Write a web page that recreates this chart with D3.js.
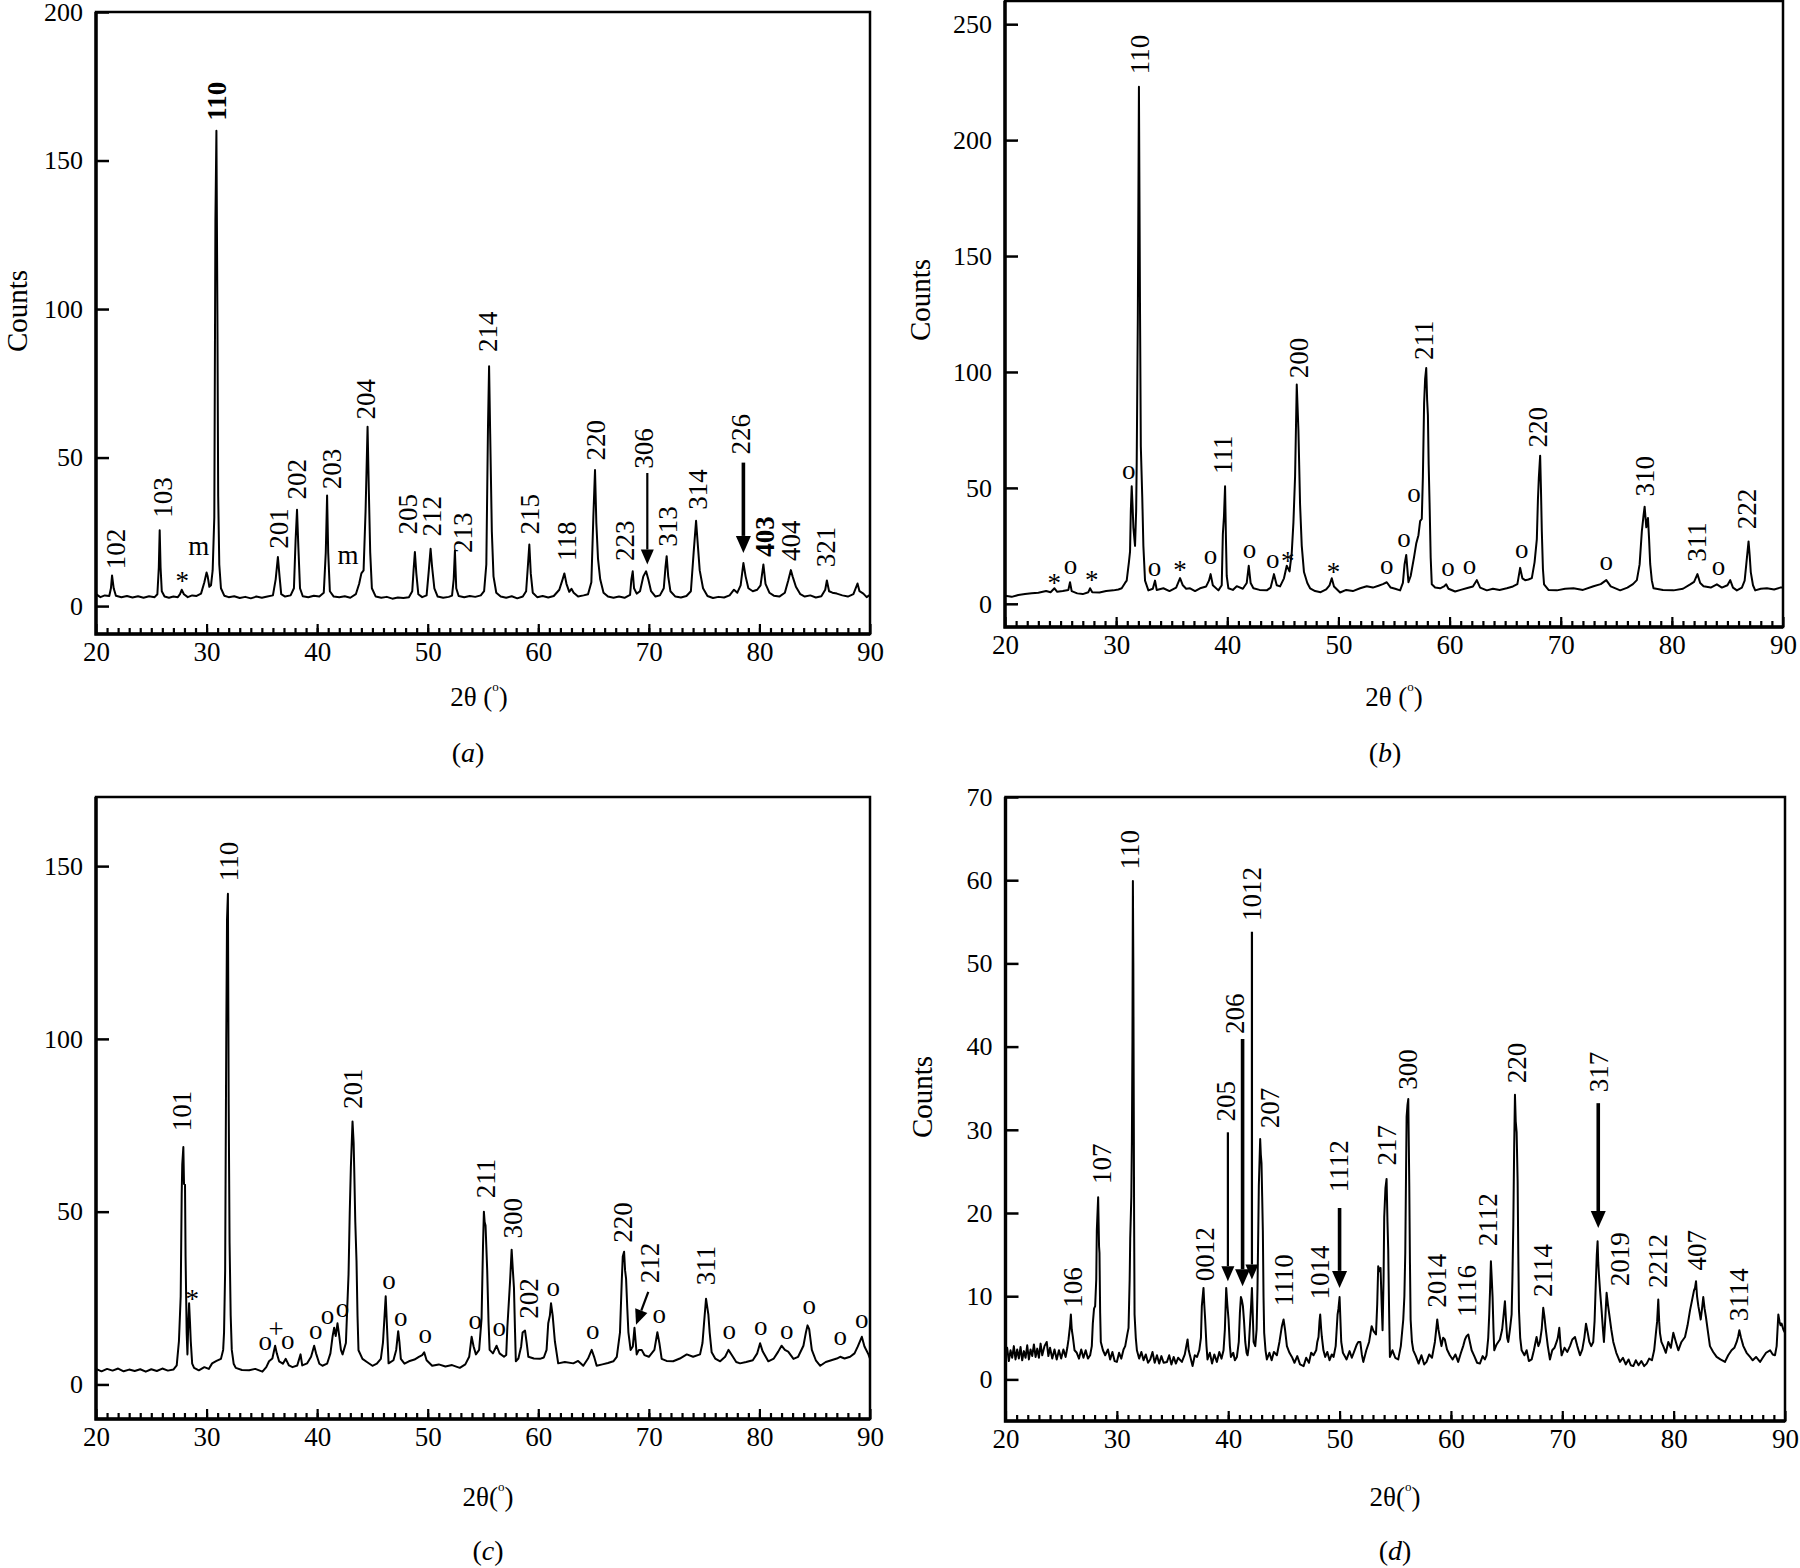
<!DOCTYPE html>
<html lang="en">
<head>
<meta charset="utf-8">
<title>XRD patterns (a)-(d)</title>
<script src="https://d3js.org/d3.v7.min.js"></script>
<style>
  body { margin: 0; background: #fff; }
  svg { display: block; }
</style>
</head>
<body>
<script>
// ---- data (2theta in degrees, counts) ----
var xTicks = [20, 30, 40, 50, 60, 70, 80, 90];

var traceA = [[20.0,4.0],[20.4,3.0],[20.8,3.6],[21.2,3.4],[21.35,6],[21.45,10.3],[21.6,6],[21.8,3.5],[22.3,3.0],[22.8,3.4],[23.3,2.9],[23.8,3.3],[24.3,2.8],[24.8,3.3],[25.3,3.0],[25.55,4],[25.68,13],[25.76,25.5],[25.84,13],[25.95,5],[26.2,3.2],[26.6,2.8],[27.0,3.2],[27.4,3.0],[27.6,4.0],[27.75,5.5],[27.95,4],[28.3,3.0],[28.7,3.6],[29.1,3.4],[29.5,4.2],[29.8,8],[30.0,11.3],[30.1,10],[30.25,6.5],[30.4,7],[30.55,12],[30.7,30],[30.8,130],[30.89,160],[30.98,98],[31.05,37],[31.15,14],[31.3,6],[31.6,3.5],[32.0,3.0],[32.5,3.3],[33.0,2.7],[33.5,3.1],[34.0,2.6],[34.5,3.2],[35.0,2.8],[35.5,3.2],[36.0,3.6],[36.25,9],[36.45,16.5],[36.6,10],[36.75,4],[37.1,3.2],[37.6,3.6],[37.9,6],[38.05,22],[38.18,32.4],[38.3,20],[38.45,6],[38.7,3.3],[39.2,3.0],[39.7,3.5],[40.2,3.2],[40.6,4.5],[40.78,18],[40.9,37.2],[41.0,18],[41.15,5],[41.5,3.2],[42.0,3.0],[42.5,3.3],[43.0,2.8],[43.5,4],[43.8,7.5],[44.0,11],[44.2,12],[44.38,32],[44.56,60.4],[44.68,38],[44.8,18],[44.95,6],[45.3,3.2],[45.8,2.8],[46.3,3.1],[46.8,2.5],[47.3,2.9],[47.8,2.7],[48.3,3.0],[48.6,5],[48.72,12],[48.84,18.2],[48.97,11],[49.15,4],[49.5,3.0],[49.9,3.6],[50.1,12],[50.26,19.3],[50.4,13],[50.6,6],[50.9,3.2],[51.4,2.8],[51.9,3.1],[52.2,3.5],[52.35,9],[52.46,18.6],[52.58,6],[52.8,3.4],[53.3,3.0],[53.8,3.4],[54.3,3.1],[54.8,3.6],[55.1,5],[55.3,14],[55.45,60],[55.55,80.7],[55.65,58],[55.8,25],[55.95,10],[56.2,4.5],[56.6,3.2],[57.1,2.8],[57.6,3.3],[58.1,2.6],[58.6,3.2],[58.9,5],[59.05,13],[59.19,20.7],[59.32,11],[59.5,4.5],[59.9,3.0],[60.4,3.4],[60.9,2.9],[61.4,3.4],[61.9,5.5],[62.2,9],[62.36,11],[62.55,7.5],[62.8,4.8],[63.0,5.8],[63.2,4.5],[63.6,3.2],[64.1,3.6],[64.5,4],[64.8,8],[64.98,30],[65.13,45.8],[65.25,28],[65.4,16],[65.6,9],[65.9,4.5],[66.3,3.2],[66.8,2.8],[67.3,3.2],[67.8,2.8],[68.3,3.8],[68.42,9],[68.54,11.7],[68.66,6],[68.9,4.2],[69.2,5],[69.5,10],[69.75,11.7],[69.95,9],[70.2,5],[70.6,3.2],[71.0,3.6],[71.35,6],[71.5,13],[71.61,16.8],[71.75,10],[71.95,5],[72.4,3.2],[72.9,2.9],[73.4,3.4],[73.8,5],[74.05,18],[74.27,28.7],[74.4,22],[74.6,12],[74.9,6],[75.3,3.4],[75.8,2.7],[76.3,3.1],[76.8,2.9],[77.3,3.6],[77.7,5.5],[78.0,4.5],[78.3,7],[78.55,14.5],[78.75,10],[79.0,6],[79.4,5],[79.8,5.5],[80.1,7],[80.36,14],[80.55,7.5],[80.9,4.5],[81.3,3.5],[81.8,3.2],[82.3,4.5],[82.6,8.5],[82.84,12.1],[83.0,10],[83.3,6.5],[83.7,4],[84.1,3.2],[84.6,3.6],[85.1,2.9],[85.6,3.3],[85.95,5.5],[86.1,8.6],[86.3,5],[86.6,4.5],[87.0,4.2],[87.5,3.6],[88.0,3.2],[88.5,4],[88.87,7.6],[89.05,5],[89.4,4.2],[89.7,3],[90.0,3.8]];

var peaksA = [["102",21.84,12.4],["103",26.06,29.7],["110",30.9,163.4],["201",36.56,19.3],["202",38.2,35.9],["203",41.3,39.3],["204",44.46,62.8],["205",48.2,24.1],["212",50.4,23.4],["213",53.2,17.9],["214",55.48,85.5],["215",59.25,24.1],["118",62.6,15.2],["220",65.2,49],["223",67.85,15.2],["306",69.57,46.2],["313",71.77,20],["314",74.4,32.4],["226",78.34,51],["403",80.5,16.6],["404",82.9,15.2],["321",86.04,13.1]];
var heavyA = ["110", "403"];
var marksA = [["*",27.8,9.9],["m",29.3,19.3],["m",42.8,16.5]];
var arrowsA = [[69.86,44.8,69.86,14,false],[78.55,48.3,78.55,17.9,true]];

var traceB = [[20.0,3.5],[20.6,3.0],[21.2,3.8],[21.8,4.2],[22.4,4.6],[23.0,4.8],[23.7,5.5],[24.1,5.0],[24.45,6.7],[24.7,5.2],[25.2,5.5],[25.7,6],[25.85,9.3],[26.0,5.5],[26.5,4.5],[27.0,4.2],[27.5,5.0],[27.65,6.7],[27.85,5],[28.5,4.9],[29.1,5.5],[29.75,5.8],[30.2,6.2],[30.5,6.7],[30.8,9],[30.95,10],[31.15,18],[31.25,22.5],[31.32,40],[31.4,50.7],[31.48,42],[31.55,33],[31.7,25],[31.8,40],[31.85,61],[31.95,123],[32.05,223],[32.15,125],[32.22,68],[32.35,46],[32.45,25],[32.6,10],[32.9,5.8],[33.3,6.5],[33.5,10],[33.65,6],[34.25,6.7],[34.8,5.5],[35.4,7],[35.75,11.1],[36.0,8],[36.3,6.5],[36.65,6.7],[37.1,5.5],[37.55,6.7],[38.1,7.5],[38.35,10],[38.5,12.8],[38.7,8],[39.2,5.8],[39.5,8],[39.6,30],[39.7,37.5],[39.8,50.7],[39.88,28],[39.95,12],[40.1,6.7],[40.5,6],[40.85,7.6],[41.4,6.5],[41.75,9],[41.93,16.4],[42.1,9],[42.35,6.7],[42.9,6],[43.55,5.8],[43.9,7],[44.2,12.8],[44.45,8],[44.75,7.5],[45.1,11],[45.35,16.4],[45.6,14],[45.8,22],[45.95,35],[46.1,55],[46.25,94.6],[46.4,75],[46.55,42.7],[46.7,25],[46.9,13.7],[47.2,9],[47.45,6.7],[47.9,5.5],[48.4,5],[48.9,6.2],[49.2,8],[49.4,11],[49.6,7.5],[50.15,4.9],[50.7,6],[51.3,5.5],[51.95,6.7],[52.55,7.6],[53.1,7],[53.6,7.8],[54.0,8.5],[54.35,9.3],[54.7,7],[55.1,6.5],[55.55,5.8],[55.8,9],[55.95,17],[56.1,21.1],[56.22,14],[56.3,9.3],[56.5,12],[56.8,20],[57.0,26],[57.2,29.6],[57.35,35.7],[57.5,36.6],[57.6,55],[57.71,86.7],[57.8,97],[57.9,101.7],[57.98,88],[58.05,81.5],[58.12,60],[58.2,43.6],[58.3,20],[58.4,8.4],[58.7,7],[59.15,6.7],[59.5,7.5],[59.7,8.4],[59.9,6.5],[60.5,5.3],[61.0,6],[61.6,6.8],[62.1,7.5],[62.45,10.2],[62.75,7],[63.35,5.8],[63.9,6.5],[64.5,6],[65.15,6.7],[65.7,7.5],[66.1,8.5],[66.35,15.5],[66.55,11],[66.8,10.2],[67.1,10.5],[67.4,11.1],[67.65,18],[67.85,27.8],[67.95,45],[68.03,54.2],[68.15,63.9],[68.22,50],[68.3,31.3],[68.4,15],[68.5,8.4],[68.9,6],[69.65,5.8],[70.4,6.5],[71.15,6.7],[72.0,6],[72.95,7.6],[73.6,8.5],[74.1,10.2],[74.5,7.5],[75.35,5.8],[76.0,7],[76.5,8.5],[76.85,10.2],[77.1,17],[77.3,31.3],[77.45,38],[77.55,41.9],[77.65,36],[77.7,33],[77.85,37],[77.95,28],[78.05,17.2],[78.2,10],[78.35,6.7],[79.2,6],[80.15,5.8],[81.0,6.5],[81.65,8.4],[82.0,9.5],[82.3,12.8],[82.55,9],[82.85,7.6],[83.5,7],[84.05,8.4],[84.5,7],[85.0,8],[85.25,10.2],[85.5,7],[85.85,5.8],[86.3,7],[86.55,10],[86.7,17.2],[86.9,26.9],[87.0,21],[87.1,13.7],[87.3,8],[87.5,5.8],[88.0,6.5],[88.55,6.7],[89.2,6.2],[89.75,7],[90.0,7]];

var peaksB = [["110",32.15,228.4],["111",39.65,56],["200",46.46,97.3],["211",57.71,105.2],["220",68.0,67.4],["310",77.6,46.3],["311",82.25,18.1],["222",86.8,32.2]];
var marksB = [["*",24.44,11.1],["o",25.9,15.8],["*",27.8,12.3],["o",31.13,56.8],["o",33.44,15],["*",35.75,16.4],["o",38.5,20],["o",41.99,22.5],["o",44.1,18.1],["*",45.44,20.4],["*",49.55,15.8],["o",54.35,15.8],["o",55.9,27.4],["o",56.8,46.8],["o",59.85,14.6],["o",61.8,15.5],["o",66.5,22.5],["o",74.09,17.2],["o",84.2,15.1]];

var traceC = [[20.0,4.5],[20.5,3.8],[21.0,4.5],[21.5,4.0],[22.0,4.6],[22.5,3.8],[23.0,4.3],[23.5,3.9],[24.0,4.4],[24.5,3.7],[25.0,4.4],[25.5,3.9],[26.0,4.6],[26.5,4.0],[27.0,4.3],[27.3,5.5],[27.5,12.5],[27.66,25.5],[27.75,55],[27.8,63.6],[27.9,68.7],[27.96,58],[28.05,57.8],[28.1,37],[28.2,15],[28.27,8.7],[28.35,18],[28.42,23.5],[28.5,18],[28.57,12.5],[28.7,6],[28.87,4.8],[29.3,4.1],[29.8,5],[30.2,4.5],[30.5,6.1],[30.9,6.8],[31.3,7.4],[31.5,10],[31.58,15],[31.68,33],[31.78,100],[31.85,134.6],[31.93,142],[32.0,81],[32.08,41],[32.18,20],[32.28,10],[32.45,6],[32.64,4.8],[33.2,4.2],[33.85,4.1],[34.4,4.5],[35.05,3.7],[35.4,5],[35.65,6.7],[35.95,7.5],[36.2,11.2],[36.35,9],[36.56,6.7],[36.9,6],[37.16,7.4],[37.45,5.5],[37.77,5],[38.2,5.5],[38.5,8.7],[38.65,5.5],[39.1,6.1],[39.45,8],[39.73,11.2],[39.9,9],[40.2,6],[40.48,5.4],[40.9,6],[41.2,9],[41.4,14],[41.54,16.4],[41.68,14],[41.84,17.7],[42.0,14],[42.15,10],[42.3,8.7],[42.6,12],[42.84,31.9],[42.95,50],[43.05,62.9],[43.2,76.1],[43.3,70],[43.35,62.9],[43.45,47],[43.56,35.8],[43.65,20],[43.74,9.9],[44.1,7.4],[44.5,6.5],[45.0,5.4],[45.4,6],[45.76,7.4],[45.95,12],[46.1,20],[46.2,25.5],[46.3,18],[46.46,6.1],[46.9,7],[47.15,10],[47.33,15.4],[47.45,12],[47.57,7.4],[47.9,6],[48.3,6.7],[48.8,7.2],[49.2,8],[49.5,8.5],[49.68,9.3],[49.9,7],[50.4,5.4],[51.0,5.8],[51.6,5.2],[52.2,5.6],[52.9,4.8],[53.4,5.8],[53.75,8],[53.97,13.8],[54.15,11],[54.36,8.7],[54.65,10],[54.87,19],[55.0,40],[55.08,50],[55.15,47],[55.23,46],[55.38,33],[55.5,18],[55.6,10],[55.9,9],[56.23,11.2],[56.5,9],[56.9,8],[57.1,8.5],[57.2,16.4],[57.45,30],[57.59,39],[57.7,33],[57.8,28],[57.9,15],[57.97,6.7],[58.2,7.5],[58.45,11],[58.58,15],[58.8,15.6],[58.95,12],[59.1,8],[59.6,7.5],[60.15,7.4],[60.5,7.8],[60.75,10],[60.9,17.7],[61.05,20],[61.15,23.5],[61.3,20],[61.5,12.5],[61.8,6.1],[62.4,6.5],[63.17,6.1],[63.6,6.8],[64.07,5.4],[64.5,7.5],[64.83,10],[65.05,8],[65.28,5.4],[65.8,5.8],[66.3,6.2],[66.79,6.7],[67.1,8],[67.39,15.1],[67.55,30],[67.64,37],[67.76,38.4],[67.85,33],[67.94,30.6],[68.05,22],[68.15,15.1],[68.35,10],[68.55,11],[68.7,16.4],[68.9,8.7],[69.1,10],[69.35,10],[69.6,8.5],[70.0,8],[70.5,10],[70.77,15.1],[70.95,12],[71.16,7.4],[71.6,6.8],[72.2,6.7],[72.8,7.5],[73.43,8.7],[74.0,8],[74.63,8.7],[74.85,12],[74.99,17.7],[75.17,24.8],[75.3,22],[75.38,20.3],[75.5,15],[75.68,9.3],[76.0,7.5],[76.45,6.7],[76.9,8],[77.2,10],[77.5,8.5],[77.9,6.5],[78.25,6.1],[78.8,6.5],[79.4,7],[79.8,9],[80.06,11.9],[80.3,9.5],[80.8,6.7],[81.3,7.5],[81.7,9.5],[82.0,11.2],[82.3,10],[82.6,9.5],[83.08,7.4],[83.5,8],[83.98,11.2],[84.2,15],[84.35,17.1],[84.5,16],[84.74,10],[85.1,7],[85.5,5.4],[86.0,6.5],[86.5,7],[87.0,7.5],[87.3,8],[87.7,7.5],[88.2,8],[88.6,9],[88.9,11],[89.26,13.8],[89.5,11],[89.86,8.7],[90.0,7.5]];

var peaksC = [["101",27.8,73.3],["110",32.04,145.6],["201",43.2,79.7],["211",55.26,53.9],["300",57.74,42.2],["202",59.2,19],["220",67.7,41],["212",70.12,29.3],["311",75.2,28.7]];
var marksC = [["*",28.7,26.1],["o",35.3,11.9],["+",36.3,15.6],["o",37.35,12.1],["o",39.88,14.9],["o",40.94,19.3],["o",42.29,21.3],["o",46.5,29.6],["o",47.57,18.7],["o",49.77,13.8],["o",54.3,18],["o",56.47,15.8],["o",61.36,27.6],["o",64.92,15.1],["o",70.93,19.6],["o",77.28,14.9],["o",80.12,16.1],["o",82.47,15.1],["o",84.5,22.2],["o",87.3,13.2],["o",89.26,18.3]];
var arrowsC = [[69.95,26.8,68.84,17.3,false]];

var traceD = [[20.0,2.9],[20.15,3.8],[20.3,2.2],[20.45,3.5],[20.6,2.6],[20.75,4.0],[20.9,2.4],[21.05,3.6],[21.2,2.5],[21.35,3.9],[21.5,2.3],[21.65,3.4],[21.8,2.6],[21.95,4.1],[22.1,2.4],[22.25,3.6],[22.4,2.8],[22.55,4.2],[22.7,2.7],[22.85,3.7],[23.0,2.6],[23.15,4.3],[23.3,2.9],[23.5,4.0],[23.7,4.5],[23.85,2.8],[24.0,3.8],[24.2,2.5],[24.4,3.6],[24.6,2.4],[24.8,3.5],[25.0,2.5],[25.2,3.6],[25.4,2.7],[25.55,3.8],[25.66,4.8],[25.8,6.5],[25.87,7.8],[25.95,6],[26.05,5.1],[26.2,3.5],[26.4,3.2],[26.6,2.5],[26.8,3.6],[27.0,2.6],[27.2,3.5],[27.4,2.5],[27.6,2.9],[27.75,4],[27.84,6.7],[27.95,8.5],[28.05,8.8],[28.15,12],[28.2,17.9],[28.32,21.9],[28.4,16],[28.44,15.2],[28.5,8],[28.56,4.5],[28.75,3.5],[28.95,2.9],[29.2,3.6],[29.4,2.4],[29.6,3.3],[29.8,2.2],[30.0,2.1],[30.2,3.2],[30.4,2.5],[30.6,3.6],[30.75,4],[30.95,5.5],[31.05,6.2],[31.15,12],[31.2,16.9],[31.3,22],[31.35,28.6],[31.4,40.9],[31.44,59.9],[31.48,50],[31.5,40.9],[31.55,19],[31.59,7.8],[31.7,5],[31.8,3.5],[32.0,2.5],[32.2,3.3],[32.4,2.3],[32.6,3.0],[32.8,2.0],[33.0,2.4],[33.2,3.3],[33.4,2.0],[33.6,2.9],[33.8,1.9],[34.0,2.8],[34.2,2.0],[34.5,2.1],[34.7,2.9],[34.9,1.8],[35.1,2.7],[35.3,1.9],[35.5,2.6],[35.84,2.1],[36.1,3],[36.35,4.8],[36.45,3.5],[36.6,2.7],[36.8,1.6],[37.0,2.9],[37.2,2.7],[37.4,3.5],[37.55,5],[37.63,8.8],[37.78,11],[37.85,9],[37.93,7.2],[38.05,4],[38.14,2.4],[38.35,3.2],[38.55,1.9],[38.75,3.0],[38.98,2.1],[39.2,3.3],[39.4,2.5],[39.58,3.5],[39.7,6],[39.82,11],[39.92,9],[40.03,7.2],[40.15,4],[40.24,2.7],[40.45,3.2],[40.6,2.3],[40.78,2.7],[40.95,4.5],[41.05,8],[41.14,9.9],[41.23,9.5],[41.32,8.8],[41.42,7],[41.53,4.5],[41.65,3.2],[41.74,2.9],[41.85,4],[41.98,7.2],[42.06,9],[42.13,11],[42.2,8],[42.28,4.5],[42.43,4],[42.55,6],[42.63,11],[42.7,18],[42.75,23.3],[42.87,28.9],[42.93,27],[42.99,26],[43.05,22],[43.11,17.9],[43.17,10],[43.23,5.6],[43.35,3.5],[43.47,2.4],[43.7,3.2],[43.9,2.3],[44.1,3.3],[44.37,2.9],[44.6,4.5],[44.82,6.4],[44.97,7.2],[45.1,6],[45.27,4],[45.5,3.2],[45.72,2.7],[45.95,2.0],[46.2,2.8],[46.45,1.8],[46.77,1.6],[47.0,2.6],[47.25,2.0],[47.45,3.2],[47.66,2.9],[47.9,3.5],[48.0,4.5],[48.11,5.1],[48.2,7],[48.26,7.8],[48.35,6],[48.41,5.1],[48.55,3.5],[48.71,2.7],[48.9,3.3],[49.1,2.3],[49.3,3.0],[49.46,2.7],[49.65,4],[49.82,7.8],[49.9,8.5],[50.0,9.9],[50.08,7],[50.15,4.5],[50.3,3.2],[50.51,2.7],[50.63,2.4],[50.9,3.4],[51.1,2.6],[51.35,3.5],[51.55,4.2],[51.68,4.5],[51.86,4.5],[52.0,3],[52.13,2.1],[52.4,3.5],[52.65,4.5],[52.88,6.4],[53.05,5.8],[53.27,5.4],[53.38,9],[53.47,13.6],[53.6,13],[53.68,13.4],[53.78,9],[53.86,5.9],[53.95,12],[54.01,19.5],[54.12,23],[54.22,24.1],[54.3,19],[54.37,15.5],[54.45,8],[54.52,2.7],[54.75,3.5],[55.0,2.6],[55.27,2.4],[55.5,4],[55.72,7.2],[55.82,10],[55.9,15.2],[55.97,25],[56.02,31.6],[56.1,33],[56.17,33.7],[56.22,28],[56.26,23.3],[56.32,14],[56.38,7.2],[56.5,4.5],[56.62,3.5],[56.85,2.8],[57.1,1.9],[57.35,2.9],[57.6,1.8],[57.81,2.1],[58.05,3.0],[58.3,2.6],[58.56,4.5],[58.68,6],[58.77,7.2],[58.88,6],[59.0,5.1],[59.15,4],[59.3,5],[59.45,4.8],[59.65,3.6],[59.9,2.9],[60.15,2.4],[60.4,3.0],[60.65,2.1],[60.9,3.2],[61.1,4],[61.26,4.8],[61.4,5.2],[61.56,5.4],[61.7,4.5],[61.86,3.5],[62.1,2.8],[62.35,2.0],[62.6,1.9],[62.85,2.8],[63.05,2.4],[63.2,2.9],[63.35,5],[63.44,7.8],[63.52,11],[63.59,14.2],[63.67,12],[63.74,9.9],[63.82,6],[63.89,3.5],[64.1,4.2],[64.4,4.8],[64.6,6],[64.75,8],[64.85,9.4],[64.95,7],[65.05,5],[65.15,4.5],[65.3,6],[65.45,7.8],[65.52,12],[65.6,18.5],[65.68,28],[65.75,34.2],[65.82,31],[65.9,29.7],[65.99,23.8],[66.05,15],[66.11,8.3],[66.22,5],[66.35,3.5],[66.6,2.9],[66.8,3.5],[67.0,2.2],[67.25,2.4],[67.45,3.5],[67.69,5.1],[67.85,4],[67.99,4.5],[68.15,6],[68.29,8.6],[68.4,7.5],[68.5,6.2],[68.7,4],[68.89,2.4],[69.1,3.5],[69.3,3.8],[69.49,4.5],[69.6,5],[69.73,6.2],[69.85,4],[69.94,2.9],[70.2,3.8],[70.45,3.3],[70.69,4],[70.9,4.8],[71.14,5.1],[71.35,4],[71.59,2.9],[71.8,3.6],[71.98,5],[72.13,6.7],[72.3,5.5],[72.43,4.5],[72.6,4],[72.78,4.5],[72.9,7],[73.02,12],[73.1,15],[73.17,16.6],[73.23,14],[73.29,12.6],[73.4,10.5],[73.53,8.3],[73.65,6],[73.74,4.5],[73.85,7],[73.98,10.4],[74.1,9],[74.22,7.8],[74.4,6],[74.58,4.5],[74.85,3.2],[75.18,2.1],[75.45,2.6],[75.7,1.8],[75.95,2.4],[76.15,1.7],[76.38,1.6],[76.6,2.3],[76.85,1.7],[77.1,2.2],[77.35,1.6],[77.58,1.9],[77.8,2.5],[78.05,2.3],[78.25,3.5],[78.41,5.6],[78.52,7],[78.62,9.6],[78.7,7],[78.77,5.6],[78.9,4.5],[79.07,4],[79.3,3.2],[79.52,4.5],[79.75,3.8],[79.97,5.6],[80.2,4.5],[80.42,3.5],[80.7,4.5],[81.02,5.1],[81.25,6.5],[81.47,8.3],[81.65,9.5],[81.83,10.7],[81.92,11],[82.01,11.8],[82.1,10],[82.22,8.8],[82.33,8],[82.43,7.2],[82.55,8.5],[82.66,9.9],[82.78,8.5],[82.9,7.5],[83.05,6],[83.26,4],[83.55,3.3],[83.86,2.7],[84.2,2.4],[84.61,2.1],[84.9,2.9],[85.2,3.5],[85.45,3.8],[85.66,4.5],[85.8,5.2],[85.9,5.9],[86.05,5],[86.26,4],[86.55,3.2],[86.86,2.7],[87.1,2.3],[87.4,2.7],[87.76,2.1],[88.0,2.6],[88.3,3.2],[88.66,3.5],[88.9,3.0],[89.1,2.9],[89.25,4],[89.4,7.8],[89.5,7],[89.6,6.5],[89.7,6.7],[89.85,6],[90.0,5.6]];

var peaksD = [["106",26.1,8.6],["107",28.65,23.5],["110",31.2,61.3],["0012",37.93,11.8],["205",39.82,31],["206",40.63,41.5],["1012",42.13,55.1],["207",43.77,30.2],["1110",45.03,8.8],["1014",48.2,9.6],["1112",49.91,22.5],["217",54.22,25.7],["300",56.17,34.8],["2014",58.71,8.6],["1116",61.41,7.5],["2112",63.35,16],["220",65.9,35.6],["2114",68.29,9.9],["317",73.32,34.5],["2019",75.18,11.2],["2212",78.62,11],["407",82.07,13.1],["3114",85.9,7]];
var arrowsD = [[39.97,29.7,39.97,11.8,false],[41.29,40.9,41.29,11.2,true],[42.13,53.8,42.13,12,false],[50.0,20.6,50.0,11,true],[73.23,33.2,73.23,18.2,true]];

var yTicksA = [0, 50, 100, 150, 200];
var yTicksB = [0, 50, 100, 150, 200, 250];
var yTicksC = [0, 50, 100, 150];
var yTicksD = [0, 10, 20, 30, 40, 50, 60, 70];

// ---- layout ----
var FONT = '"Liberation Serif", "Times New Roman", serif';
var W = 1800, H = 1568;

var panels = [
  { tag: "a", trace: traceA, peaks: peaksA, marks: marksA, arrows: arrowsA, heavy: heavyA,
    yTicks: yTicksA, yDomain: [-9.4, 200], box: [96, 870, 12, 634],
    ylabel: [17, 311], xlabel: [479, 697], xlabelText: "2θ (", caption: [468, 752] },
  { tag: "b", trace: traceB, peaks: peaksB, marks: marksB, arrows: [], heavy: [],
    yTicks: yTicksB, yDomain: [-10, 260], box: [1005, 1783, 1, 627],
    ylabel: [920, 300], xlabel: [1394, 697], xlabelText: "2θ (", caption: [1385, 752] },
  { tag: "c", trace: traceC, peaks: peaksC, marks: marksC, arrows: arrowsC, heavy: [],
    yTicks: yTicksC, yDomain: [-10, 170], box: [96, 870, 797, 1419],
    ylabel: null, xlabel: [488, 1497], xlabelText: "2θ(", caption: [488, 1550] },
  { tag: "d", trace: traceD, peaks: peaksD, marks: [], arrows: arrowsD, heavy: [],
    yTicks: yTicksD, yDomain: [-5, 70], box: [1005.5, 1785, 797, 1421],
    ylabel: [922, 1097], xlabel: [1395, 1497], xlabelText: "2θ(", caption: [1395, 1550] }
];

var svg = d3.select("body").append("svg")
  .attr("width", W).attr("height", H)
  .style("font-family", FONT);

svg.append("rect").attr("width", W).attr("height", H).attr("fill", "#fff");

// baseline offset (in em) from glyph centre for the symbol marks
var glyphShift = { "o": 0.24, "m": 0.24, "+": 0.26, "*": 0.5 };

function drawArrow(g, x1, y1, x2, y2, heavy) {
  var dx = x2 - x1, dy = y2 - y1, len = Math.sqrt(dx * dx + dy * dy);
  var ux = dx / len, uy = dy / len;
  var hl = heavy ? 17 : 15, hw = heavy ? 7.5 : 6.5;
  var bx = x2 - ux * hl, by = y2 - uy * hl;
  g.append("line")
    .attr("x1", x1).attr("y1", y1).attr("x2", bx).attr("y2", by)
    .attr("stroke", "#000").attr("stroke-width", heavy ? 3.6 : 2.2);
  g.append("path")
    .attr("d", "M" + x2 + "," + y2 +
      "L" + (bx - uy * hw) + "," + (by + ux * hw) +
      "L" + (bx + uy * hw) + "," + (by - ux * hw) + "Z")
    .attr("fill", "#000");
}

panels.forEach(function (p) {
  var left = p.box[0], right = p.box[1], top = p.box[2], bottom = p.box[3];
  var x = d3.scaleLinear().domain([20, 90]).range([left, right]);
  var y = d3.scaleLinear().domain(p.yDomain).range([bottom, top]);
  var g = svg.append("g");

  // clip for the pattern
  g.append("clipPath").attr("id", "clip-" + p.tag)
    .append("rect").attr("x", left).attr("y", top)
    .attr("width", right - left).attr("height", bottom - top);

  // pattern
  var line = d3.line().x(function (d) { return x(d[0]); }).y(function (d) { return y(d[1]); });
  g.append("path")
    .datum(p.trace)
    .attr("clip-path", "url(#clip-" + p.tag + ")")
    .attr("d", line)
    .attr("fill", "none")
    .attr("stroke", "#000")
    .attr("stroke-width", 2)
    .attr("stroke-linejoin", "round");

  // minor x ticks (every degree), inward
  var minor = g.append("g").attr("transform", "translate(0," + bottom + ")")
    .call(d3.axisBottom(x).tickValues(d3.range(21, 90)).tickSizeInner(-6).tickSizeOuter(0).tickFormat(""));
  minor.select(".domain").remove();
  minor.selectAll("line").attr("stroke-width", 2.2);

  // major x ticks with labels
  var major = g.append("g").attr("transform", "translate(0," + bottom + ")")
    .call(d3.axisBottom(x).tickValues(xTicks).tickSizeInner(-10).tickSizeOuter(0).tickPadding(8));
  major.select(".domain").remove();
  major.selectAll("line").attr("stroke-width", 2.2);
  major.selectAll("text").attr("font-size", 27).attr("font-family", FONT).attr("fill", "#000");

  // y ticks, inward
  var yax = g.append("g").attr("transform", "translate(" + left + ",0)")
    .call(d3.axisLeft(y).tickValues(p.yTicks).tickSizeInner(-13).tickSizeOuter(0).tickPadding(13));
  yax.select(".domain").remove();
  yax.selectAll("line").attr("stroke-width", 2.5);
  yax.selectAll("text").attr("font-size", 26).attr("font-family", FONT).attr("fill", "#000");

  // frame
  g.append("rect")
    .attr("x", left).attr("y", top).attr("width", right - left).attr("height", bottom - top)
    .attr("fill", "none").attr("stroke", "#000").attr("stroke-width", 2.5);
  g.append("path")
    .attr("d", "M" + left + "," + top + "V" + bottom + "H" + right)
    .attr("fill", "none").attr("stroke", "#000").attr("stroke-width", 3.4);

  // peak labels (rotated, reading upward)
  g.selectAll("text.peak").data(p.peaks).enter().append("text")
    .attr("class", "peak")
    .attr("transform", function (d) { return "translate(" + x(d[1]) + "," + y(d[2]) + ") rotate(-90)"; })
    .attr("dominant-baseline", "central")
    .attr("font-size", 27)
    .attr("font-weight", function (d) { return p.heavy.indexOf(d[0]) >= 0 ? "bold" : "normal"; })
    .text(function (d) { return d[0]; });

  // phase symbols
  g.selectAll("text.mark").data(p.marks).enter().append("text")
    .attr("class", "mark")
    .attr("x", function (d) { return x(d[1]); })
    .attr("y", function (d) { return y(d[2]) + glyphShift[d[0]] * 27; })
    .attr("text-anchor", "middle")
    .attr("font-size", 27)
    .text(function (d) { return d[0]; });

  // arrows
  p.arrows.forEach(function (a) {
    drawArrow(g, x(a[0]), y(a[1]), x(a[2]), y(a[3]), a[4]);
  });

  // axis titles
  if (p.ylabel) {
    g.append("text")
      .attr("transform", "translate(" + p.ylabel[0] + "," + p.ylabel[1] + ") rotate(-90)")
      .attr("text-anchor", "middle").attr("dominant-baseline", "central")
      .attr("font-size", 29).text("Counts");
  }
  var xl = g.append("text")
    .attr("x", p.xlabel[0]).attr("y", p.xlabel[1])
    .attr("text-anchor", "middle").attr("dominant-baseline", "central")
    .attr("font-size", 27);
  xl.append("tspan").text(p.xlabelText);
  xl.append("tspan").attr("font-size", 13).attr("dy", -11).text("o");
  xl.append("tspan").attr("dy", 11).text(")");

  var cap = g.append("text")
    .attr("x", p.caption[0]).attr("y", p.caption[1])
    .attr("text-anchor", "middle").attr("dominant-baseline", "central")
    .attr("font-size", 28);
  cap.append("tspan").text("(");
  cap.append("tspan").attr("font-style", "italic").text(p.tag);
  cap.append("tspan").text(")");
});
</script>
</body>
</html>
